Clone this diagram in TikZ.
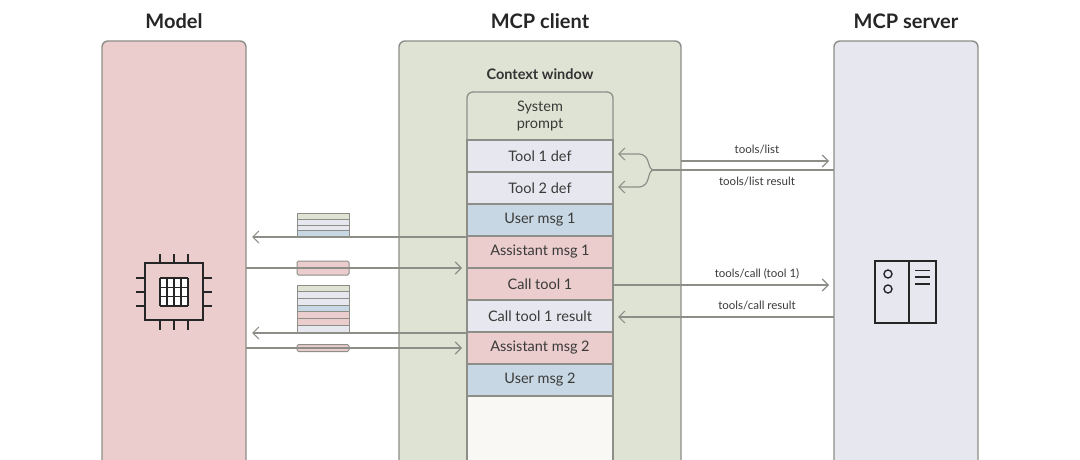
\documentclass[tikz,border=0pt]{standalone}
\usepackage{fontspec}
\setmainfont{Lato}
\usetikzlibrary{arrows.meta}
\definecolor{pinkfill}{HTML}{EACDCC}
\definecolor{greenfill}{HTML}{DFE3D4}
\definecolor{lavfill}{HTML}{E6E7EF}
\definecolor{bluefill}{HTML}{C7D7E4}
\definecolor{creamfill}{HTML}{F9F8F4}
\definecolor{edgegrey}{HTML}{8E8E88}
\definecolor{inkgrey}{HTML}{3A3A38}
\begin{document}
\begin{tikzpicture}[
       x=1pt,
       y=-1pt,
       panel/.style={
         draw=edgegrey,
         line width=1.4pt,
         rounded corners=6pt
       },
       heading/.style={
         font=\fontsize{20}{22}\selectfont\bfseries,
         text=black!85
       },
       rowbox/.style={
         draw=edgegrey,
         line width=1.3pt,
         minimum width=146pt,
         inner sep=0pt,
         align=center,
         font=\fontsize{14.5}{17}\selectfont,
         text=inkgrey
       },
       msgline/.style={
         draw=edgegrey,
         line width=1.2pt
       },
       msgarrow/.style={
         msgline,
         -{Straight Barb[length=6pt,width=12pt,line width=1.2pt]}
       },
       msglabel/.style={
         font=\fontsize{11.5}{13}\selectfont,
         text=inkgrey,
         inner sep=0pt
       },
       stripe/.style={
         draw=edgegrey,
         line width=1pt,
         minimum width=52pt,
         minimum height=6.7pt,
         inner sep=0pt
       },
       icon/.style={
         draw=black!85,
         line width=1.4pt
       }
     ]

       \useasboundingbox (0,0) rectangle (1080,460);
       \clip (0,0) rectangle (1080,460);
       \fill[white] (0,0) rectangle (1080,460);

       % panels
       \draw[panel,fill=pinkfill] (102,41) rectangle (246,500);
       \draw[panel,fill=greenfill] (399,41) rectangle (681,500);
       \draw[panel,fill=lavfill] (834,41) rectangle (978,500);

       \node (model) at (174,21) [heading]{Model};
       \node (client) at (540,21) [heading]{MCP client};
       \node (server) at (906,21) [heading]{MCP server};
       \node (context) at (540,74) [font=\fontsize{14.5}{17}\selectfont\bfseries,text=black!80,inner sep=0pt]{Context window};

       % context window rows
       \draw[panel,line width=1.3pt,fill=greenfill] (467,92) rectangle (613,145);
       \node (sys) at (540,116) [rowbox,draw=none,minimum height=46pt]{System\\prompt};
       \node (tool1) at (540,156) [rowbox,fill=lavfill,minimum height=32pt]{Tool 1 def};
       \node (tool2) at (540,188) [rowbox,fill=lavfill,minimum height=32pt]{Tool 2 def};
       \node (user1) at (540,220) [rowbox,fill=bluefill,minimum height=32pt]{User msg 1};
       \node (asst1) at (540,252) [rowbox,fill=pinkfill,minimum height=32pt]{Assistant msg 1};
       \node (call1) at (540,284) [rowbox,fill=pinkfill,minimum height=32pt]{Call tool 1};
       \node (result1) at (540,316) [rowbox,fill=lavfill,minimum height=32pt]{Call tool 1 result};
       \node (asst2) at (540,348) [rowbox,fill=pinkfill,minimum height=32pt]{Assistant msg 2};
       \node (user2) at (540,380) [rowbox,fill=bluefill,minimum height=32pt]{User msg 2};
       \node (rest) at (540,441) [rowbox,fill=creamfill,minimum height=90pt]{};

       % small stacks between model and client
       \foreach \y/\c in {216/greenfill,222/lavfill,228/lavfill,233.5/bluefill}
         \node at (323,\y) [stripe,fill=\c,minimum height=6pt]{};
       \node (out1) at (323,268) [stripe,rounded corners=1.5pt,fill=pinkfill,minimum height=14pt]{};
       \foreach \y/\c in {288.5/greenfill,295.2/lavfill,301.9/lavfill,308.6/bluefill,315.3/pinkfill,322/pinkfill,328.7/lavfill}
         \node at (323,\y) [stripe,fill=\c]{};
       \node (out2) at (323,348) [stripe,rounded corners=1.5pt,fill=pinkfill,minimum height=7pt]{};

       % free ends
       \coordinate (mIn1) at (252,237);
       \coordinate (mIn2) at (252,333);
       \coordinate (mOut1) at (246,268);
       \coordinate (mOut2) at (246,348);
       \coordinate (aIn1) at (462,268);
       \coordinate (aIn2) at (462,348);
       \coordinate (cOut) at (681,161);
       \coordinate (sIn1) at (829,161);
       \coordinate (sOut1) at (834,170);
       \coordinate (sIn2) at (829,285);
       \coordinate (sOut2) at (834,317);
       \coordinate (rIn2) at (618,317);
       \coordinate (fork) at (654,170);
       \coordinate (rowIn1) at (618,154);
       \coordinate (rowIn2) at (618,187);

       \draw[msgarrow] (467,237) -- (mIn1);
       \draw[msgarrow] (467,333) -- (mIn2);
       \draw[msgarrow] (mOut1) -- (aIn1);
       \draw[msgarrow] (mOut2) -- (aIn2);
       \draw[msgarrow] (cOut) -- (sIn1);
       \draw[msgarrow] (613,285) -- (sIn2);
       \draw[msgarrow] (sOut2) -- (rIn2);
       \draw[msgline] (sOut1) -- (fork);
       \draw[msgarrow] (fork) .. controls (646,170) and (652,154) .. (638,154) -- (rowIn1);
       \draw[msgarrow] (fork) .. controls (646,170) and (652,187) .. (638,187) -- (rowIn2);

       \node (list) at (757,150) [msglabel]{tools/list};
       \node (listres) at (757,182) [msglabel]{tools/list result};
       \node (call) at (757,274) [msglabel]{tools/call (tool 1)};
       \node (callres) at (757,306) [msglabel]{tools/call result};

       % model icon
       \draw[icon] (145,263) rectangle (203,320);
       \fill[white] (160,278) rectangle (188,306);
       \foreach \x in {160,167,174,181,188}
         \draw[icon] (\x,278) -- (\x,306);
       \foreach \y in {278,287.3,296.7,306}
         \draw[icon] (160,\y) -- (188,\y);
       \foreach \x in {160,174,188} {
         \draw[icon] (\x,254) -- (\x,263);
         \draw[icon] (\x,320) -- (\x,330);
       }
       \foreach \y in {278,292,306} {
         \draw[icon] (136,\y) -- (145,\y);
         \draw[icon] (203,\y) -- (212,\y);
       }

       % server icon
       \draw[icon] (875,261) rectangle (936,323);
       \draw[icon] (909,261) -- (909,323);
       \draw[icon] (888,274) circle (4);
       \draw[icon] (888,289) circle (4);
       \foreach \y in {270.5,277,284}
         \draw[icon] (915,\y) -- (930,\y);

\end{tikzpicture}
\end{document}
